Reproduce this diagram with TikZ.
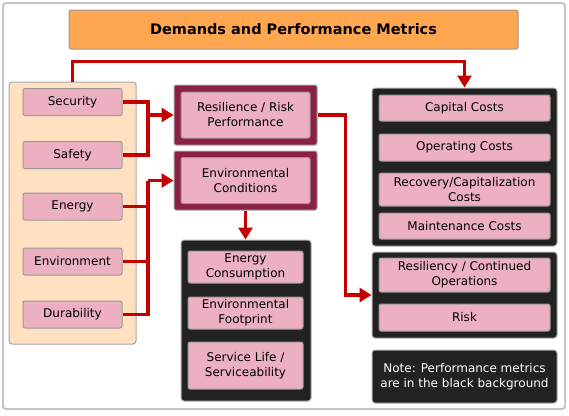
\documentclass[tikz,border=0pt]{standalone}
\usepackage{fontspec}
\setmainfont{DejaVu Sans}
\usetikzlibrary{arrows.meta}
\definecolor{itempink}{RGB}{236,176,192}
\definecolor{panelpeach}{RGB}{255,224,192}
\definecolor{titleorange}{RGB}{255,166,80}
\definecolor{framemaroon}{RGB}{140,32,64}
\definecolor{metricblack}{RGB}{34,34,34}
\definecolor{linkred}{RGB}{196,0,0}

\begin{document}
\begin{tikzpicture}[x=1pt,y=-1pt]
        \tikzstyle{every node}=[font=\fontsize{12}{15}\selectfont, align=center, inner sep=0pt]
        \tikzstyle{item}=[fill=itempink, draw=gray!80, line width=1pt, rounded corners=2pt]
        \tikzstyle{maroonframe}=[fill=framemaroon, draw=gray!70, line width=1pt, rounded corners=2pt]
        \tikzstyle{blackframe}=[fill=metricblack, draw=gray!60, line width=1pt, rounded corners=3pt]
        \tikzstyle{link}=[draw=linkred, line width=3.5pt]
        \tikzstyle{linkarrow}=[link, -{Triangle[length=12pt,width=14pt]}]
        \useasboundingbox (0,0) rectangle (569,415);
        \draw[gray!45, line width=2pt, rounded corners=3pt] (3,3) rectangle (565,409);
        \node[fill=titleorange, draw=gray!80, line width=1pt, rounded corners=2pt, minimum width=449, minimum height=39, font=\fontsize{14.5}{16}\selectfont\bfseries] (title) at (293.5,29.5) {Demands and Performance Metrics};
        \node[fill=panelpeach, draw=gray!70, line width=1pt, rounded corners=3pt, minimum width=127, minimum height=262] (demands) at (72.5,213) {};
        \node[item, minimum width=99, minimum height=27] (security) at (72.5,102) {Security};
        \node[item, minimum width=99, minimum height=27] (safety) at (72.5,155) {Safety};
        \node[item, minimum width=99, minimum height=27] (energy) at (72.5,206.5) {Energy};
        \node[item, minimum width=99, minimum height=27] (environment) at (72.5,261.5) {Environment};
        \node[item, minimum width=99, minimum height=27] (durability) at (72.5,314.5) {Durability};
        \node[maroonframe, minimum width=143, minimum height=60] (resframe) at (245.5,115) {};
        \node[item, minimum width=129, minimum height=46] (resilience) at (245.5,115) {Resilience / Risk\\Performance};
        \node[maroonframe, minimum width=143, minimum height=59] (condframe) at (245.5,180.5) {};
        \node[item, minimum width=129, minimum height=46] (conditions) at (245.5,180.5) {Environmental\\Conditions};
        \node[blackframe, minimum width=130, minimum height=161] (envmetrics) at (246,320.5) {};
        \node[item, minimum width=115, minimum height=32] (consumption) at (245.5,267) {Energy\\Consumption};
        \node[item, minimum width=115, minimum height=32] (footprint) at (245.5,313) {Environmental\\Footprint};
        \node[item, minimum width=115, minimum height=47] (servicelife) at (245.5,365.5) {Service Life /\\Serviceability};
        \node[blackframe, minimum width=185, minimum height=158] (costmetrics) at (464.5,167) {};
        \node[item, minimum width=171, minimum height=26] (capital) at (464.5,108) {Capital Costs};
        \node[item, minimum width=171, minimum height=27] (operating) at (464.5,147.5) {Operating Costs};
        \node[item, minimum width=171, minimum height=33] (recovery) at (464.5,189.5) {Recovery/Capitalization\\Costs};
        \node[item, minimum width=171, minimum height=26] (maintenance) at (464.5,226) {Maintenance Costs};
        \node[blackframe, minimum width=185, minimum height=86] (riskmetrics) at (464.5,295) {};
        \node[item, minimum width=171, minimum height=34] (resiliency) at (464.5,275) {Resiliency / Continued\\Operations};
        \node[item, minimum width=171, minimum height=27] (risk) at (464.5,317.5) {Risk};
        \node[blackframe, minimum width=185, minimum height=53, text=white] (note) at (464.5,376.5) {Note: Performance metrics\\are in the black background};
        \coordinate (safetyjoin) at (148,115);
        \coordinate (energyjoin) at (148,180.5);
        \draw[link] (security.east) -| (safetyjoin) |- (safety.east);
        \draw[linkarrow] (safetyjoin) -- (resframe.west);
        \draw[link] (durability.east) -| (energyjoin);
        \draw[link] (energy.east) -- (energy.east -| energyjoin);
        \draw[link] (environment.east) -- (environment.east -| energyjoin);
        \draw[linkarrow] (energyjoin) -- (condframe.west);
        \draw[linkarrow] (condframe.south) -- (condframe.south |- envmetrics.north);
        \draw[linkarrow] (demands.north) -- ++(0,-20) -| (costmetrics.north);
        \draw[linkarrow] (resframe.east) -- ++(28,0) |- (riskmetrics.west);
\end{tikzpicture}
\end{document}
